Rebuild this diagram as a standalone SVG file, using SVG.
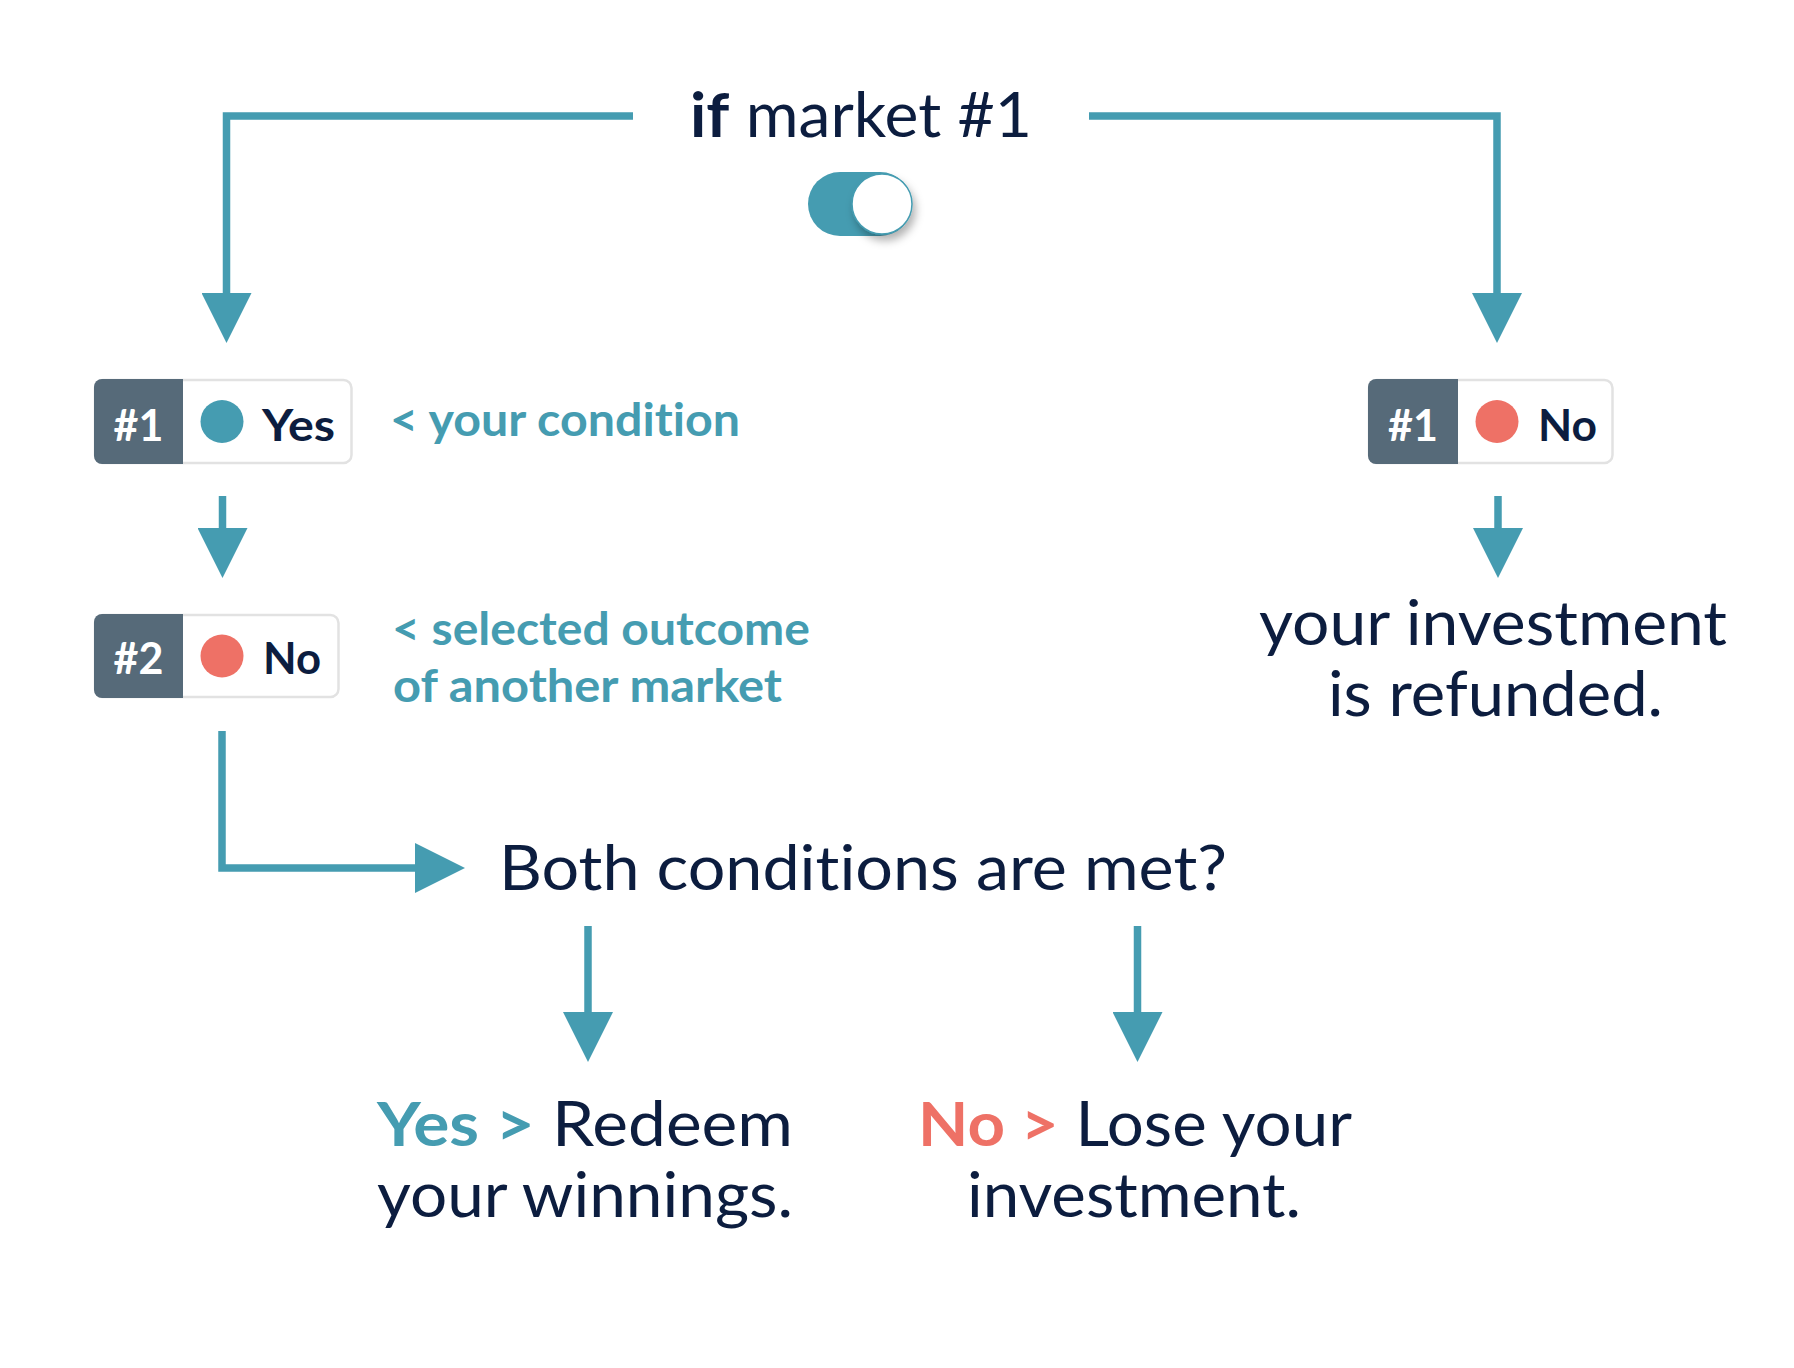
<svg xmlns="http://www.w3.org/2000/svg" width="1794" height="1368" viewBox="0 0 1794 1368">
<style>
text{font-variant-ligatures:none;font-feature-settings:"liga" 0}
.big{font-family:Lato,"Noto Sans","Liberation Sans",sans-serif;font-size:62px;fill:#0c1d3f}
.lbl{font-family:Lato,"Noto Sans","Liberation Sans",sans-serif;font-size:45px;font-weight:700;fill:#459cb1}
.bdg{font-family:Lato,"Noto Sans","Liberation Sans",sans-serif;font-size:43px;font-weight:700}
.wl{fill:#ffffff}
.nv{fill:#0c1d3f}
.teal{fill:#459cb1}
.red{fill:#ee7166}
.conn{fill:none;stroke:#459cb1;stroke-width:7.5;stroke-linejoin:miter}
.dark{fill:#566a79}
.box{fill:#ffffff;stroke:#e2e2e2;stroke-width:2.5}
</style>
<defs>
<marker id="ah" viewBox="0 0 50 50" refX="0" refY="25" markerWidth="50" markerHeight="50" markerUnits="userSpaceOnUse" orient="auto">
<path d="M0,0 L50,25 L0,50 Z" fill="#459cb1"/>
</marker>
<filter id="sh" x="-50%" y="-50%" width="200%" height="200%">
<feDropShadow dx="3" dy="6" stdDeviation="4" flood-color="#000000" flood-opacity="0.3"/>
</filter>
</defs>
<rect width="1794" height="1368" fill="#ffffff"/>

<g id="connectors">
<path class="conn" d="M633 116 H226.5 V293" marker-end="url(#ah)"/>
<path class="conn" d="M1089 116 H1497 V293" marker-end="url(#ah)"/>
<path class="conn" d="M222.5 496 V528" marker-end="url(#ah)"/>
<path class="conn" d="M1498 496 V528" marker-end="url(#ah)"/>
<path class="conn" d="M222 731 V868 H415" marker-end="url(#ah)"/>
<path class="conn" d="M588 926 V1012" marker-end="url(#ah)"/>
<path class="conn" d="M1137.5 926 V1012" marker-end="url(#ah)"/>
</g>

<g id="title">
<text class="big" x="690" y="137" textLength="342" lengthAdjust="spacingAndGlyphs"><tspan font-weight="700">if</tspan> market #1</text>
</g>

<g id="toggle">
<rect x="808" y="172" width="104" height="64" rx="32" fill="#459cb1"/>
<circle cx="882" cy="204" r="30" fill="#ffffff" stroke="#459cb1" stroke-width="1.5" filter="url(#sh)"/>
</g>

<g id="badge-1-yes">
<rect class="box" x="95" y="380" width="256.5" height="83" rx="8"/>
<path class="dark" d="M102 379 H183 V464 H102 A8 8 0 0 1 94 456 V387 A8 8 0 0 1 102 379 Z"/>
<circle cx="222" cy="421.5" r="21.5" fill="#459cb1"/>
<text class="bdg wl" x="138.5" y="441" text-anchor="middle">#1</text>
<text class="bdg nv" x="262" y="441" textLength="73" lengthAdjust="spacingAndGlyphs">Yes</text>
</g>

<g id="label-condition">
<text class="lbl" x="390" y="436" textLength="350" lengthAdjust="spacingAndGlyphs">&lt; your condition</text>
</g>

<g id="badge-2-no">
<rect class="box" x="95" y="615" width="243.5" height="82" rx="8"/>
<path class="dark" d="M102 614 H183 V698 H102 A8 8 0 0 1 94 690 V622 A8 8 0 0 1 102 614 Z"/>
<circle cx="222" cy="656" r="21.5" fill="#ee7166"/>
<text class="bdg wl" x="138.5" y="674" text-anchor="middle">#2</text>
<text class="bdg nv" x="263" y="674" textLength="58" lengthAdjust="spacingAndGlyphs">No</text>
</g>

<g id="label-outcome">
<text class="lbl" x="392" y="645" textLength="418" lengthAdjust="spacingAndGlyphs">&lt; selected outcome</text>
<text class="lbl" x="393" y="702" textLength="389" lengthAdjust="spacingAndGlyphs">of another market</text>
</g>

<g id="badge-1-no">
<rect class="box" x="1369" y="380" width="243.5" height="83" rx="8"/>
<path class="dark" d="M1376 379 H1458 V464 H1376 A8 8 0 0 1 1368 456 V387 A8 8 0 0 1 1376 379 Z"/>
<circle cx="1497" cy="421.5" r="21.5" fill="#ee7166"/>
<text class="bdg wl" x="1413" y="441" text-anchor="middle">#1</text>
<text class="bdg nv" x="1538" y="441" textLength="59" lengthAdjust="spacingAndGlyphs">No</text>
</g>

<g id="refunded">
<text class="big" x="1259" y="645" textLength="468" lengthAdjust="spacingAndGlyphs">your investment</text>
<text class="big" x="1328" y="716" textLength="335" lengthAdjust="spacingAndGlyphs">is refunded.</text>
</g>

<g id="question">
<text class="big" x="499" y="890" textLength="728" lengthAdjust="spacingAndGlyphs">Both conditions are met?</text>
</g>

<g id="outcome-yes">
<text class="big" x="377" y="1146" textLength="416" lengthAdjust="spacingAndGlyphs"><tspan class="teal" font-weight="700">Yes &gt;</tspan> Redeem</text>
<text class="big" x="377" y="1217" textLength="416" lengthAdjust="spacingAndGlyphs">your winnings.</text>
</g>

<g id="outcome-no">
<text class="big" x="918" y="1146" textLength="434" lengthAdjust="spacingAndGlyphs"><tspan class="red" font-weight="700">No &gt;</tspan> Lose your</text>
<text class="big" x="967" y="1217" textLength="334" lengthAdjust="spacingAndGlyphs">investment.</text>
</g>
</svg>
